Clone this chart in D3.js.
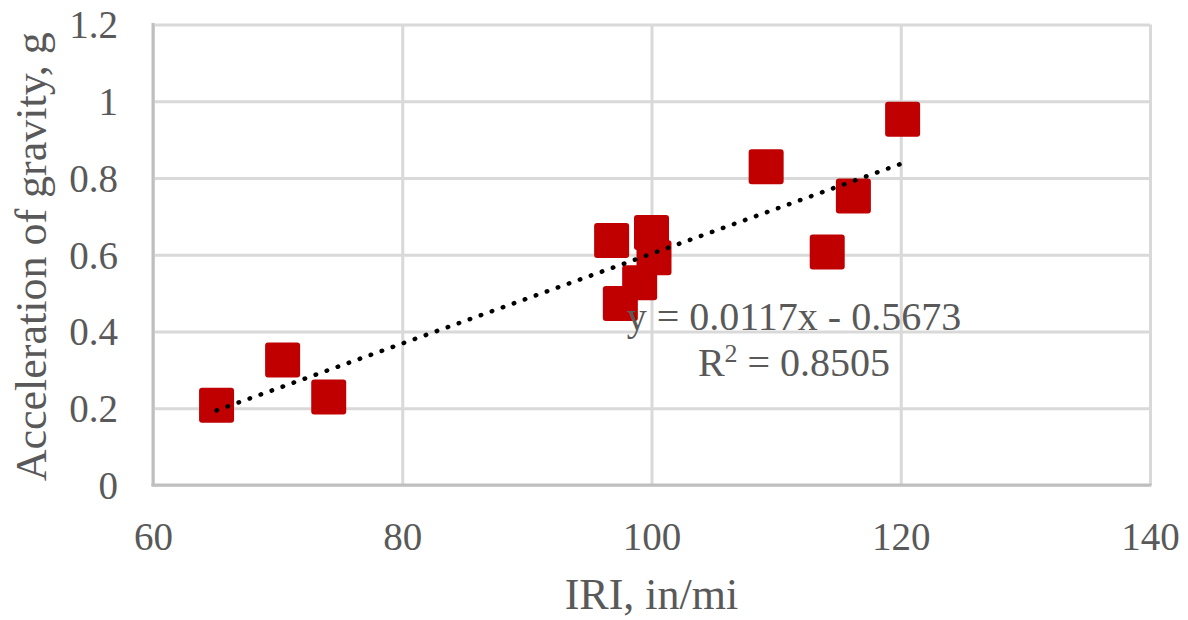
<!DOCTYPE html>
<html>
<head>
  <meta charset="utf-8">
  <title>IRI vs acceleration</title>
  <style>
    body { margin: 0; background: #fff; }
    .grid line { stroke: #d9d9d9; stroke-width: 3; }
    .grid path { display: none; }
    .ticks path, .ticks line { display: none; }
    .ticks text { font-family: 'Liberation Serif', serif; font-size: 39px; fill: #595959; }
    .title { font-family: 'Liberation Serif', serif; font-size: 44px; fill: #595959; }
    .eq { font-family: 'Liberation Serif', serif; font-size: 40px; fill: #595959; text-anchor: middle; }
  </style>
  <script src="https://d3js.org/d3.v7.min.js"></script>
</head>
<body>
  <script>
    // data
    var iri   = [65.1, 70.4, 74.1, 96.8, 97.5, 99.05, 100.0, 100.2, 109.2, 114.1, 116.2, 120.15];
    var accel = [0.208, 0.326, 0.229, 0.637, 0.473, 0.527, 0.658, 0.592, 0.829, 0.607, 0.753, 0.953];
    var xTicks = [60, 80, 100, 120, 140];
    var yTicks = [0, 0.2, 0.4, 0.6, 0.8, 1, 1.2];
    var slope = 0.0117, intercept = -0.5673, r2 = 0.8505;

    var width = 1188, height = 620;
    var svg = d3.select('body').append('svg')
      .attr('width', width)
      .attr('height', height);

    var x = d3.scaleLinear().domain([60, 140]).range([153, 1150]);
    var y = d3.scaleLinear().domain([0, 1.2]).range([485, 24.5]);

    // gridlines
    svg.append('g').attr('class', 'grid')
      .attr('transform', 'translate(' + x.range()[0] + ',0)')
      .call(d3.axisLeft(y).tickValues(yTicks).tickSize(-(x.range()[1] - x.range()[0])).tickFormat(''));
    svg.append('g').attr('class', 'grid')
      .attr('transform', 'translate(0,' + y.range()[1] + ')')
      .call(d3.axisBottom(x).tickValues(xTicks).tickSize(y.range()[0] - y.range()[1]).tickFormat(''));

    // axis lines
    svg.append('line')
      .attr('x1', x(60)).attr('x2', x(60)).attr('y1', y(1.2) - 1.5).attr('y2', y(0) + 1.5)
      .attr('stroke', '#bfbfbf').attr('stroke-width', 3);
    svg.append('line')
      .attr('x1', x(60) - 1.5).attr('x2', x(140) + 1.5).attr('y1', y(0)).attr('y2', y(0))
      .attr('stroke', '#bfbfbf').attr('stroke-width', 3);

    // tick labels
    svg.append('g').attr('class', 'ticks')
      .attr('transform', 'translate(' + (x(60) - 35) + ',0)')
      .call(d3.axisLeft(y).tickValues(yTicks).tickSize(0).tickPadding(0).tickFormat(d3.format('')))
      .selectAll('text').attr('dy', '0.34em');
    svg.append('g').attr('class', 'ticks')
      .attr('transform', 'translate(0,' + (y(0) + 37) + ')')
      .call(d3.axisBottom(x).tickValues(xTicks).tickSize(0).tickPadding(0))
      .selectAll('text').attr('dy', '0.71em');

    // markers
    var s = 35;
    svg.append('g').selectAll('rect')
      .data(iri)
      .enter()
      .append('rect')
      .attr('x', function(d) { return x(d) - s / 2; })
      .attr('y', function(d, i) { return y(accel[i]) - s / 2; })
      .attr('width', s)
      .attr('height', s)
      .attr('rx', 3)
      .attr('fill', '#c00000');

    // linear trendline
    var x0 = d3.min(iri), x1 = d3.max(iri);
    svg.append('line')
      .attr('x1', x(x0)).attr('y1', y(slope * x0 + intercept))
      .attr('x2', x(x1)).attr('y2', y(slope * x1 + intercept))
      .attr('stroke', '#000')
      .attr('stroke-width', 4.5)
      .attr('stroke-linecap', 'round')
      .attr('stroke-dasharray', '0.5,11.2');

    // equation
    svg.append('text').attr('class', 'eq')
      .attr('x', 794).attr('y', 330)
      .text('y = ' + slope.toFixed(4) + 'x - ' + Math.abs(intercept).toFixed(4));
    var r = svg.append('text').attr('class', 'eq')
      .attr('x', 794).attr('y', 376);
    r.append('tspan').text('R');
    r.append('tspan').attr('dy', -14).attr('font-size', '26px').text('2');
    r.append('tspan').attr('dy', 14).text(' = ' + r2.toFixed(4));

    // axis titles
    svg.append('text').attr('class', 'title')
      .attr('text-anchor', 'middle')
      .attr('x', (x.range()[0] + x.range()[1]) / 2)
      .attr('y', 609)
      .text('IRI, in/mi');
    svg.append('text').attr('class', 'title')
      .attr('text-anchor', 'middle')
      .attr('transform', 'translate(46,' + ((y.range()[0] + y.range()[1]) / 2 + 2) + ') rotate(-90)')
      .text('Acceleration of gravity, g');
  </script>
</body>
</html>
